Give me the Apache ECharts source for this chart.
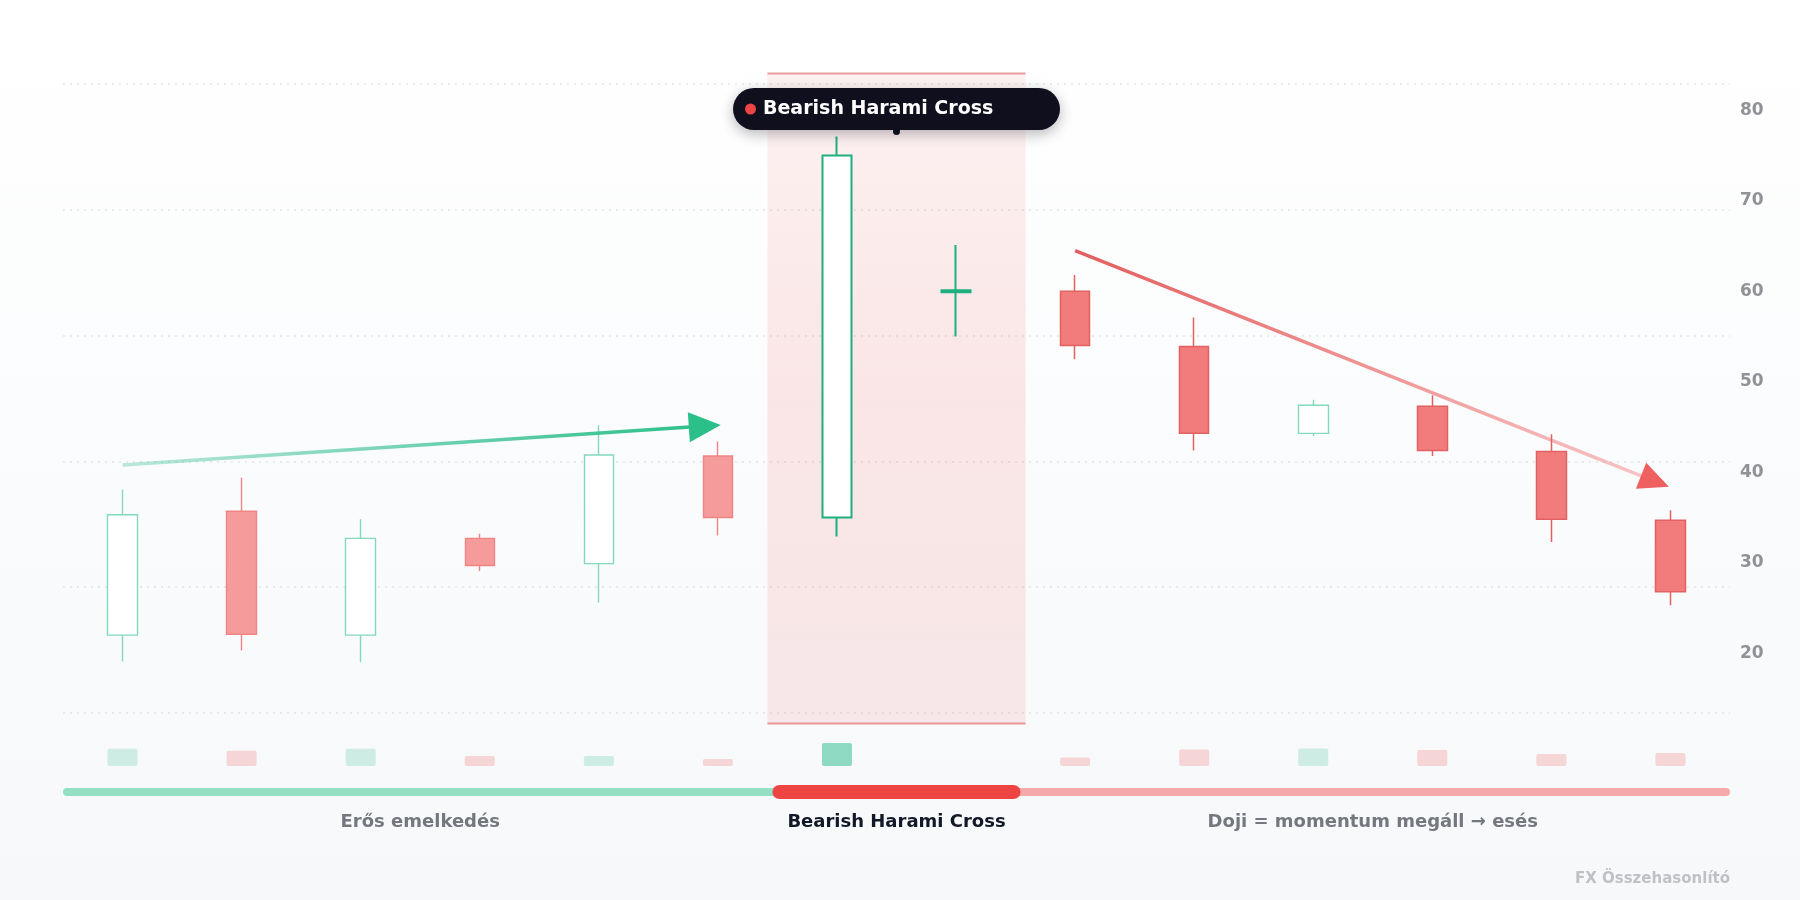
<!DOCTYPE html>
<html lang="hu">
<head>
<meta charset="utf-8">
<title>Bearish Harami Cross</title>
<script src="https://cdn.jsdelivr.net/npm/echarts@6/dist/echarts.min.js"></script>
<style>
  html, body { margin: 0; padding: 0; background: #fff; }
  #main { width: 1800px; height: 900px; }
</style>
</head>
<body>
<div id="main"></div>
<script>
// candles
var categories = ['1', '2', '3', '4', '5', '6', '7', '8', '9', '10', '11', '12', '13', '14'];
var opens  = [22.0, 35.7, 22.0, 32.7, 29.9, 41.8, 35.0, 59.9, 60.0, 53.9, 44.3, 47.3, 42.3, 34.7];
var closes = [35.3, 22.1, 32.7, 29.7, 41.9, 35.0, 75.0, 60.1, 54.0, 44.3, 47.4, 42.4, 34.8, 26.8];
var lows   = [19.1, 20.3, 19.0, 29.1, 25.6, 33.0, 32.9, 55.0, 52.5, 42.4, 44.0, 41.8, 32.3, 25.3];
var highs  = [38.1, 39.4, 34.8, 33.2, 45.2, 43.4, 77.1, 65.1, 61.8, 57.1, 48.0, 48.5, 44.2, 35.8];
var volumes = [75, 66, 75, 44, 44, 30, 100, 0, 37, 72, 76, 70, 52, 57];
var yTicks = [20, 30, 40, 50, 60, 70, 80];

// trend arrows [index, price]
var trendUp = [[0, 40.8], [4.89, 45.1]];
var trendDown = [[8, 64.5], [12.87, 39.0]];

// phases under the chart
var phaseNames = ['Erős emelkedés', 'Bearish Harami Cross', 'Doji = momentum megáll → esés'];
var phaseFrom = [0, 6, 8];
var phaseTo = [5, 7, 13];
var activePhase = 1;
var patternLabel = 'Bearish Harami Cross';

var GREEN = '#1fae7e';
var RED = '#ef4444';
var FONT = '"DejaVu Sans", sans-serif';
var BAR_Y = 792;
var LABEL_Y = 822;

var chart = echarts.init(document.getElementById('main'));

var candleData = opens.map(function (o, i) {
  var item = { value: [o, closes[i], lows[i], highs[i]] };
  if (i >= phaseFrom[activePhase] && i <= phaseTo[activePhase]) {
    item.itemStyle = {
      color: i === phaseTo[activePhase] ? GREEN : '#ffffff',
      borderColor: GREEN,
      borderWidth: 2
    };
  } else if (i > phaseTo[activePhase] && closes[i] < o) {
    item.itemStyle = { color0: '#f27b7b', borderColor0: '#e26262', borderWidth: 1.5 };
  }
  return item;
});

var volumeData = volumes.map(function (v, i) {
  var up = closes[i] >= opens[i];
  var c;
  if (i === phaseFrom[activePhase]) c = 'rgba(38,185,138,0.5)';
  else c = up ? 'rgba(38,185,138,0.2)' : 'rgba(239,68,68,0.2)';
  return { value: v, itemStyle: { color: c, borderRadius: 2 } };
});

function renderHighlight(params, api) {
  var cs = params.coordSys;
  var x0 = api.coord([api.value(0) - 0.5, 0])[0] - 10;
  var x1 = api.coord([api.value(1) + 0.5, 0])[0] + 10;
  var y0 = cs.y - 10.5;
  var y1 = cs.y + cs.height + 10.5;
  return {
    type: 'group',
    children: [
      {
        type: 'rect',
        shape: { x: x0, y: y0, width: x1 - x0, height: y1 - y0 },
        style: {
          fill: new echarts.graphic.LinearGradient(0, 0, 0, 1, [
            { offset: 0, color: 'rgba(239,68,68,0.07)' },
            { offset: 0.5, color: 'rgba(239,68,68,0.12)' },
            { offset: 1, color: 'rgba(239,68,68,0.10)' }
          ])
        }
      },
      { type: 'line', shape: { x1: x0, y1: y0, x2: x1, y2: y0 }, style: { stroke: 'rgba(220,80,80,0.55)', lineWidth: 2 } },
      { type: 'line', shape: { x1: x0, y1: y1, x2: x1, y2: y1 }, style: { stroke: 'rgba(220,80,80,0.55)', lineWidth: 2 } }
    ]
  };
}

function renderBadge(params, api) {
  var cs = params.coordSys;
  var cx = api.coord([api.value(0), 0])[0];
  var cy = cs.y + 25;
  var w = 327, h = 42;
  var left = cx - w / 2;
  return {
    type: 'group',
    children: [
      {
        type: 'rect',
        shape: { x: left, y: cy - h / 2, width: w, height: h, r: h / 2 },
        style: { fill: '#0f0f1e', shadowBlur: 14, shadowOffsetY: 4, shadowColor: 'rgba(15,15,30,0.3)' }
      },
      { type: 'circle', shape: { cx: left + 17.5, cy: cy, r: 5.5 }, style: { fill: RED } },
      {
        type: 'text',
        style: {
          text: patternLabel, x: left + 30, y: cy, align: 'left', verticalAlign: 'middle',
          fill: '#ffffff', fontSize: 19, fontWeight: 'bold', fontFamily: FONT
        }
      },
      { type: 'circle', shape: { cx: cx, cy: cy + h / 2 + 1.5, r: 3.5 }, style: { fill: '#0f0f1e' } }
    ]
  };
}

function renderPhase(params, api) {
  var i = params.dataIndex;
  var x0 = api.coord([api.value(0) - 0.5, 0])[0];
  var x1 = api.coord([api.value(1) + 0.5, 0])[0];
  var active = i === activePhase;
  var h = active ? 14 : 8;
  var pad = active ? 5 : 0;
  var fill = active ? RED : (i < activePhase ? '#94e0c5' : '#f4aaaa');
  return {
    type: 'group',
    children: [
      {
        type: 'rect',
        z2: active ? 10 : 0,
        shape: { x: x0 - pad, y: BAR_Y - h / 2, width: x1 - x0 + 2 * pad, height: h, r: h / 2 },
        style: { fill: fill }
      },
      {
        type: 'text',
        style: {
          text: phaseNames[i], x: (x0 + x1) / 2, y: LABEL_Y, align: 'center', verticalAlign: 'middle',
          fill: active ? '#111827' : '#74777d', fontSize: 18, fontWeight: 'bold', fontFamily: FONT
        }
      }
    ]
  };
}

function arrowSeries(pts, shaft, head, size) {
  return {
    type: 'line',
    xAxisIndex: 1,
    yAxisIndex: 0,
    data: pts,
    symbol: 'none',
    z: 4,
    lineStyle: { width: 3.5, color: new echarts.graphic.LinearGradient(0, 0, 1, 0, shaft) },
    markLine: {
      silent: true,
      animation: false,
      symbol: ['none', 'triangle'],
      symbolSize: size,
      label: { show: false },
      lineStyle: { color: head, width: 0, type: 'solid' },
      data: [[{ coord: pts[0] }, { coord: pts[1] }]]
    }
  };
}

var option = {
  animation: false,
  backgroundColor: new echarts.graphic.LinearGradient(0, 0, 0, 1, [
    { offset: 0, color: '#ffffff' },
    { offset: 1, color: '#f6f8fa' }
  ]),
  textStyle: { fontFamily: FONT },
  grid: [
    { left: 63, right: 70, top: 84, bottom: 187 },
    { left: 63, right: 70, top: 743, bottom: 134 }
  ],
  xAxis: [
    { type: 'category', gridIndex: 0, data: categories, show: false },
    { type: 'value', gridIndex: 0, min: -0.5, max: 13.5, show: false },
    { type: 'category', gridIndex: 1, data: categories, show: false }
  ],
  yAxis: [
    {
      type: 'value', gridIndex: 0, position: 'right', min: 13.4, max: 82.9,
      axisLine: { show: false }, axisTick: { show: false }, splitLine: { show: false },
      axisLabel: {
        margin: 10, color: '#909296', fontSize: 17, fontWeight: 'bold',
        formatter: function (v) { return yTicks.indexOf(v) >= 0 ? String(v) : ''; }
      }
    },
    {
      type: 'value', gridIndex: 0, min: 0, max: 5, interval: 1,
      axisLine: { show: false }, axisTick: { show: false }, axisLabel: { show: false },
      splitLine: { show: true, lineStyle: { color: '#e2e4e8', width: 1.5, type: [2, 5] } }
    },
    { type: 'value', gridIndex: 1, min: 0, max: 100, show: false }
  ],
  series: [
    {
      type: 'custom',
      xAxisIndex: 1,
      yAxisIndex: 0,
      z: 1,
      silent: true,
      renderItem: renderHighlight,
      data: [[phaseFrom[activePhase], phaseTo[activePhase]]]
    },
    {
      type: 'candlestick',
      xAxisIndex: 0,
      yAxisIndex: 0,
      z: 3,
      barWidth: 30,
      itemStyle: {
        color: '#ffffff',
        borderColor: '#83d9bc',
        color0: '#f59b9b',
        borderColor0: '#ef8585',
        borderWidth: 1.4
      },
      data: candleData
    },
    arrowSeries(trendUp,
      [{ offset: 0, color: 'rgba(38,185,138,0.3)' }, { offset: 1, color: '#2bbf8a' }],
      '#2bbf8a', [30, 32]),
    arrowSeries(trendDown,
      [{ offset: 0, color: '#e35d5d' }, { offset: 1, color: 'rgba(239,100,100,0.35)' }],
      '#ef6060', [28, 30]),
    {
      type: 'bar',
      xAxisIndex: 2,
      yAxisIndex: 2,
      barWidth: 30,
      data: volumeData
    },
    {
      type: 'custom',
      xAxisIndex: 1,
      yAxisIndex: 0,
      z: 5,
      silent: true,
      renderItem: renderPhase,
      data: phaseFrom.map(function (f, i) { return [f, phaseTo[i]]; })
    },
    {
      type: 'custom',
      xAxisIndex: 1,
      yAxisIndex: 0,
      z: 10,
      silent: true,
      renderItem: renderBadge,
      data: [[(phaseFrom[activePhase] + phaseTo[activePhase]) / 2, 0]]
    }
  ],
  graphic: [
    {
      type: 'text',
      right: 70,
      top: 872,
      style: { text: 'FX Összehasonlító', fill: '#bfc1c5', fontSize: 15, fontWeight: 'bold', fontFamily: FONT }
    }
  ]
};

chart.setOption(option);
</script>
</body>
</html>
